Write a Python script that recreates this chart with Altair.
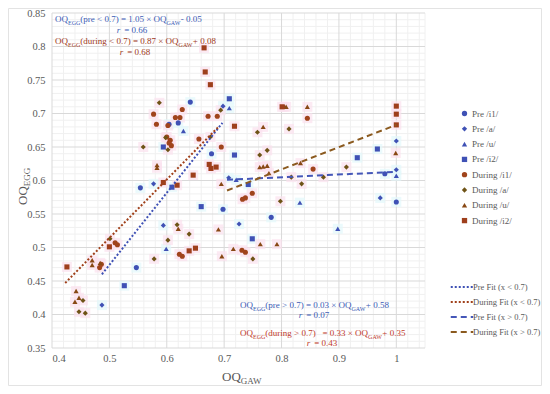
import altair as alt
import pandas as pd

# ---------------- data ----------------
series_names = ["Pre /i1/", "Pre /a/", "Pre /u/", "Pre /i2/",
                "During /i1/", "During /a/", "During /u/", "During /i2/"]

pre_i1_x = [0.641, 0.547, 0.698, 0.782, 0.554, 0.678, 1.0, 0.980, 0.604, 0.620]
pre_i1_y = [0.717, 0.470, 0.557, 0.545, 0.589, 0.640, 0.568, 0.610, 0.684, 0.686]

pre_a_x = [0.698, 0.577, 0.708, 0.487, 0.594, 0.726, 0.972, 1.0, 1.0]
pre_a_y = [0.711, 0.595, 0.604, 0.414, 0.533, 0.535, 0.574, 0.659, 0.616]

pre_u_x = [0.629, 0.709, 0.721, 0.599, 0.832, 0.898, 1.0]
pre_u_y = [0.674, 0.708, 0.601, 0.498, 0.567, 0.528, 0.607]

pre_i2_x = [0.709, 0.594, 0.718, 0.742, 0.660, 0.526, 0.749, 0.967, 0.932, 0.609]
pre_i2_y = [0.722, 0.650, 0.638, 0.594, 0.561, 0.443, 0.513, 0.647, 0.634, 0.590]

dur_i1_x = [0.577, 0.582, 0.615, 0.623, 0.627, 0.656, 0.688, 0.695, 0.672, 0.510,
            0.514, 0.627, 0.622, 0.737, 0.731, 0.749, 0.732, 0.737, 0.845, 0.855,
            0.602, 0.606, 0.600, 0.608, 0.604, 0.486, 0.483]
dur_i1_y = [0.699, 0.684, 0.694, 0.694, 0.706, 0.662, 0.696, 0.650, 0.696, 0.507,
            0.504, 0.487, 0.490, 0.493, 0.496, 0.581, 0.572, 0.574, 0.693, 0.617,
            0.682, 0.660, 0.665, 0.652, 0.656, 0.475, 0.470]

dur_a_x = [0.559, 0.587, 0.694, 0.676, 0.602, 0.639, 0.578, 0.750, 0.447, 0.458,
           0.454, 0.618, 0.758, 0.775, 0.762, 0.813, 0.798, 0.817, 0.835, 0.913,
           0.873, 0.501, 0.598, 0.602]
dur_a_y = [0.650, 0.716, 0.705, 0.665, 0.511, 0.520, 0.483, 0.483, 0.404, 0.402,
           0.421, 0.534, 0.672, 0.645, 0.638, 0.677, 0.569, 0.605, 0.595, 0.620,
           0.605, 0.513, 0.664, 0.646]

dur_u_x = [0.583, 0.583, 0.695, 0.768, 0.762, 0.768, 0.775, 0.778, 0.805, 0.845,
           0.833, 0.999, 0.690, 0.696, 0.716, 0.763, 0.792, 0.442, 0.440, 0.470,
           0.470, 0.484, 0.620, 0.808, 0.447]
dur_u_y = [0.623, 0.619, 0.595, 0.680, 0.620, 0.621, 0.622, 0.611, 0.710, 0.710,
           0.626, 0.641, 0.527, 0.487, 0.498, 0.505, 0.505, 0.435, 0.419, 0.481,
           0.474, 0.477, 0.528, 0.710, 0.425]

dur_i2_x = [0.665, 0.667, 0.676, 0.718, 0.646, 0.674, 0.677, 0.686, 0.594, 0.618,
            0.426, 0.500, 0.639, 0.650, 1.0, 1.0, 1.0, 0.801]
dur_i2_y = [0.798, 0.762, 0.743, 0.681, 0.608, 0.624, 0.618, 0.620, 0.597, 0.593,
            0.471, 0.501, 0.495, 0.499, 0.711, 0.699, 0.683, 0.710]

fit_names = ["Pre Fit (x < 0.7)", "During Fit (x < 0.7)",
             "Pre Fit (x > 0.7)", "During Fit (x > 0.7)"]
fit_x = [[0.487, 0.697], [0.423, 0.690], [0.705, 1.0], [0.705, 1.0]]
fit_y = [[0.460, 0.686], [0.447, 0.680], [0.601, 0.613], [0.585, 0.683]]

x_ticks = [0.4, 0.5, 0.6, 0.7, 0.8, 0.9, 1.0]
y_ticks = [0.35, 0.4, 0.45, 0.5, 0.55, 0.6, 0.65, 0.7, 0.75, 0.8, 0.85]

# ---------------- styles ----------------
FONT = "Liberation Serif"
BLUE = "#3F51B5"
series_colors = [BLUE, BLUE, BLUE, BLUE, "#A0441C", "#6E5316", "#884814", "#9E3F1C"]
series_shapes = ["circle", "diamond", "triangle-up", "square"] * 2
fit_colors = [BLUE, "#A0401A", "#4557B8", "#8B5A1F"]
fit_dashes = [[2, 2], [2, 2], [6, 4], [6, 4]]

all_x = [pre_i1_x, pre_a_x, pre_u_x, pre_i2_x, dur_i1_x, dur_a_x, dur_u_x, dur_i2_x]
all_y = [pre_i1_y, pre_a_y, pre_u_y, pre_i2_y, dur_i1_y, dur_a_y, dur_u_y, dur_i2_y]
rows = []
for name, xs, ys in zip(series_names, all_x, all_y):
    for a, b in zip(xs, ys):
        rows.append({"series": name, "x": a, "y": b,
                     "phase": "pre" if name.startswith("Pre") else "during"})
pts_df = pd.DataFrame(rows)

fit_rows = []
for name, xs, ys in zip(fit_names, fit_x, fit_y):
    for a, b in zip(xs, ys):
        fit_rows.append({"fit": name, "x": a, "y": b})
fit_df = pd.DataFrame(fit_rows)

X0, Y0 = 52, 13  # plot origin on the page
xscale = alt.Scale(domain=[0.4, 1.05], nice=False, zero=False)
yscale = alt.Scale(domain=[0.35, 0.85], nice=False, zero=False)

# minor grid
minor_x = [round(0.4 + 0.02 * i, 2) for i in range(1, 33) if i % 5 != 0] + [1.05]
minor_y = [round(0.35 + 0.01 * i, 2) for i in range(1, 50) if i % 5 != 0]
gx = alt.Chart(pd.DataFrame({"v": minor_x})).mark_rule(color="#f0f0f0", strokeWidth=1).encode(
    x=alt.X("v:Q", scale=xscale, axis=None))
gy = alt.Chart(pd.DataFrame({"v": minor_y})).mark_rule(color="#f0f0f0", strokeWidth=1).encode(
    y=alt.Y("v:Q", scale=yscale, axis=None))
major_x = alt.Chart(pd.DataFrame({"v": x_ticks})).mark_rule(color="#d9d9d9", strokeWidth=1).encode(
    x=alt.X("v:Q", scale=xscale, axis=None))
major_y = alt.Chart(pd.DataFrame({"v": y_ticks})).mark_rule(color="#d9d9d9", strokeWidth=1).encode(
    y=alt.Y("v:Q", scale=yscale, axis=None))

# soft highlight boxes behind points (as in the reference picture)
halo = alt.Chart(pts_df).mark_square(size=100, opacity=0.7).encode(
    x=alt.X("x:Q", scale=xscale, axis=None),
    y=alt.Y("y:Q", scale=yscale, axis=None),
    color=alt.Color("phase:N", scale=alt.Scale(domain=["pre", "during"],
                                               range=["#e2f8fb", "#fbe1ee"]), legend=None),
)

leg_common = dict(title=None, orient="none", labelFont=FONT,
                  labelColor="#595959", padding=0)
pt_leg = dict(legendX=408, legendY=96, rowPadding=5.3, labelOffset=3, symbolSize=28,
              labelFontSize=9, **leg_common)

pts = alt.Chart(pts_df).mark_point(filled=True, size=26, opacity=1).encode(
    x=alt.X("x:Q", scale=xscale,
            axis=alt.Axis(values=x_ticks, format="~g", title=None, grid=False,
                          ticks=False, domain=False,
                          labelFont=FONT, labelFontSize=10.5, labelColor="#595959",
                          labelPadding=5)),
    y=alt.Y("y:Q", scale=yscale,
            axis=alt.Axis(values=y_ticks, format="~g", title=None, grid=False,
                          ticks=False, domain=False,
                          labelFont=FONT, labelFontSize=10.5, labelColor="#595959",
                          labelPadding=7)),
    color=alt.Color("series:N", scale=alt.Scale(domain=series_names, range=series_colors),
                    legend=alt.Legend(**pt_leg)),
    shape=alt.Shape("series:N", scale=alt.Scale(domain=series_names, range=series_shapes),
                    legend=alt.Legend(**pt_leg)),
)

ln_leg = dict(legendX=404.5, legendY=268.5, rowPadding=5, labelOffset=5.5, symbolSize=81,
              symbolType="M-2.5,0H2.5", symbolStrokeWidth=2, labelFontSize=8.5, **leg_common)
fits = alt.Chart(fit_df).mark_line(strokeWidth=2).encode(
    x=alt.X("x:Q", scale=xscale, axis=None),
    y=alt.Y("y:Q", scale=yscale, axis=None),
    color=alt.Color("fit:N", scale=alt.Scale(domain=fit_names, range=fit_colors),
                    legend=alt.Legend(**ln_leg)),
    strokeDash=alt.StrokeDash("fit:N", scale=alt.Scale(domain=fit_names, range=fit_dashes),
                              legend=alt.Legend(**ln_leg)),
)

# ---------------- annotations with subscripts ----------------
NB = "\u00a0"
CW = {"O": .722, "Q": .722, "E": .611, "G": .722, "A": .722, "W": .944, "p": .5, "r": .333,
      "e": .444, "d": .5, "u": .5, "i": .278, "n": .5, "g": .5, " ": .25, NB: .25, "(": .333,
      ")": .333, "<": .564, ">": .564, "=": .564, "×": .564, "-": .333, "+": .564,
      ".": .25}


def tw(s, size):
    return sum(CW.get(c, 0.5) for c in s) * size


FS, SUB = 9, 6
seg_rows = []


def add_line(x, y, color, parts, center=False):
    total = sum(tw(t, SUB if s == 1 else FS) for t, s, _ in parts)
    cx = x - total / 2 if center else x
    for t, s, it in parts:
        size = SUB if s == 1 else FS
        seg_rows.append({"px": cx - X0, "py": y + (2.5 if s == 1 else 0) - Y0,
                         "t": t.replace(" ", NB), "fs": size, "col": color, "it": it})
        cx += tw(t, size)


PRE_T, DUR_T, DUR_T2 = "#3B5BB5", "#A0391A", "#C0392B"
add_line(55, 22, PRE_T, [("OQ", 0, 0), ("EGG", 1, 0), ("(pre < 0.7) = 1.05 × OQ", 0, 0),
                         ("GAW", 1, 0), (" - 0.05", 0, 0)])
add_line(132, 33, PRE_T, [("r  ", 0, 1), ("= 0.66", 0, 0)], center=True)
add_line(55, 44, DUR_T, [("OQ", 0, 0), ("EGG", 1, 0), ("(during < 0.7) = 0.87 × OQ", 0, 0),
                         ("GAW", 1, 0), (" + 0.08", 0, 0)])
add_line(135, 55, DUR_T, [("r  ", 0, 1), ("= 0.68", 0, 0)], center=True)
add_line(240, 308, PRE_T, [("OQ", 0, 0), ("EGG", 1, 0), ("(pre > 0.7) = 0.03 × OQ", 0, 0),
                           ("GAW", 1, 0), (" + 0.58", 0, 0)])
add_line(314, 318, PRE_T, [("r  ", 0, 1), ("= 0.07", 0, 0)], center=True)
add_line(240, 336, DUR_T2, [("OQ", 0, 0), ("EGG", 1, 0), ("(during > 0.7)   = 0.33 × OQ", 0, 0),
                            ("GAW", 1, 0), ("   + 0.35", 0, 0)])
add_line(322, 346, DUR_T2, [("r  ", 0, 1), ("= 0.43", 0, 0)], center=True)
# x-axis title
seg_rows.append({"px": 222 - X0, "py": 381 - Y0, "t": "OQ", "fs": 13, "col": "#595959", "it": 0})
seg_rows.append({"px": 222 + tw("OQ", 13) - X0, "py": 383.5 - Y0, "t": "GAW", "fs": 9,
                 "col": "#595959", "it": 0})
seg_df = pd.DataFrame(seg_rows)


def text_layer(df, italic):
    return alt.Chart(df).mark_text(align="left", baseline="alphabetic", font=FONT,
                                   fontStyle="italic" if italic else "normal").encode(
        x=alt.X("px:Q", scale=None, axis=None), y=alt.Y("py:Q", scale=None, axis=None),
        text="t:N",
        size=alt.Size("fs:Q", scale=None, legend=None),
        color=alt.Color("col:N", scale=None, legend=None))


txt_n = text_layer(seg_df[seg_df.it == 0], False)
txt_i = text_layer(seg_df[seg_df.it == 1], True)

# y-axis title (rotated)
ytitle_df = pd.DataFrame([
    {"px": 27 - X0, "py": 205 - Y0, "t": "OQ", "fs": 13},
    {"px": 30 - X0, "py": 205 - tw("OQ", 13) - Y0, "t": "EGG", "fs": 9},
])
ytitle = alt.Chart(ytitle_df).mark_text(align="left", baseline="alphabetic", font=FONT,
                                        angle=270, color="#595959").encode(
    x=alt.X("px:Q", scale=None, axis=None), y=alt.Y("py:Q", scale=None, axis=None),
    text="t:N",
    size=alt.Size("fs:Q", scale=None, legend=None))

border = alt.Chart(pd.DataFrame({"a": [0]})).mark_rect(
    fill=None, stroke="#e3e3e3", strokeWidth=1).encode(
    x=alt.value(-43.5), x2=alt.value(489.5), y=alt.value(-4.5), y2=alt.value(372.5))

chart = alt.layer(border, gx, gy, major_x, major_y, halo, pts, fits, txt_n, txt_i, ytitle
).resolve_scale(
    x="independent", y="independent",
    color="independent", shape="independent", strokeDash="independent", size="independent"
).properties(
    width=373, height=335,
    padding={"left": 44, "top": 5, "right": 117, "bottom": 38},
    autosize=alt.AutoSizeParams(type="none"),
    background="white",
).configure_view(stroke=None)

chart.save("out.html", embed_options={"renderer": "svg", "actions": False})
